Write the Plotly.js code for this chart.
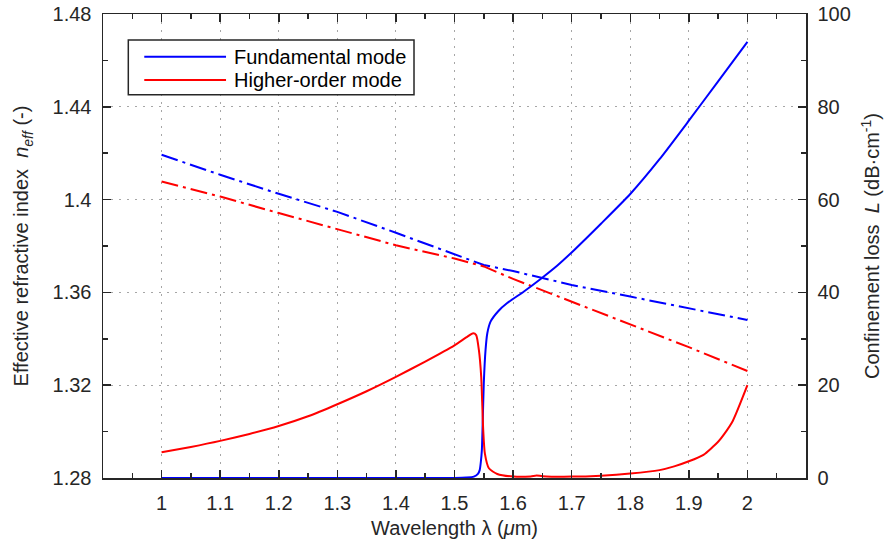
<!DOCTYPE html>
<html>
<head>
<meta charset="utf-8">
<script src="https://cdn.plot.ly/plotly-3.0.1.min.js"></script>
<style>html,body{margin:0;padding:0;background:#fff;}#chart{width:888px;height:543px;}</style>
</head>
<body>
<div id="chart"></div>
<script>
// Effective refractive index (left axis)
const lambdaNeff = [1.0, 1.1, 1.2, 1.3, 1.4, 1.5, 1.55, 1.6, 1.7, 1.8, 1.9, 2.0];
const neffFund   = [1.4193, 1.4107, 1.4025, 1.3947, 1.3857, 1.3763, 1.3718, 1.3692, 1.3632, 1.3582, 1.3532, 1.3481];
const neffHigh   = [1.4078, 1.4013, 1.3942, 1.3873, 1.3803, 1.3746, 1.3712, 1.3658, 1.3560, 1.3465, 1.3364, 1.3261];

// Confinement loss (right axis), fundamental mode
const lambdaLossFund = [1.0, 1.1, 1.2, 1.3, 1.4, 1.45, 1.5, 1.52, 1.533, 1.54, 1.543, 1.545, 1.5467, 1.5484, 1.55, 1.553, 1.556, 1.5615, 1.575, 1.59, 1.6185, 1.647, 1.6756, 1.704, 1.75, 1.8, 1.85, 1.9, 1.95, 2.0];
const lossFund       = [0, 0, 0, 0, 0, 0, 0.02, 0.1, 0.3, 0.9, 1.7, 3.5, 6.0, 13.2, 20.4, 27.6, 31.2, 33.7, 36.0, 37.7, 40.2, 42.9, 45.8, 49.1, 54.8, 61.2, 68.7, 77.0, 85.5, 94.0];

// Confinement loss (right axis), higher-order mode
const lambdaLossHigh = [1.0, 1.05, 1.1, 1.15, 1.2, 1.25, 1.3, 1.35, 1.4, 1.45, 1.5, 1.52, 1.532, 1.537, 1.5416, 1.5456, 1.5473, 1.549, 1.5518, 1.5587, 1.573, 1.601, 1.63, 1.64, 1.65, 1.7, 1.75, 1.8, 1.85, 1.875, 1.9, 1.925, 1.95, 1.96, 1.975, 2.0];
const lossHigh       = [5.54, 6.7, 8.0, 9.5, 11.2, 13.3, 15.9, 18.7, 21.8, 25.1, 28.6, 30.3, 31.2, 30.8, 27.6, 21.8, 16.2, 10.4, 5.3, 2.1, 0.86, 0.3, 0.35, 0.55, 0.4, 0.3, 0.5, 0.95, 1.7, 2.5, 3.6, 5.0, 7.8, 9.4, 12.3, 20.0];

// Axis tick labels
const lambdaTicks = [1, 1.1, 1.2, 1.3, 1.4, 1.5, 1.6, 1.7, 1.8, 1.9, 2];
const lambdaTickText = ['1', '1.1', '1.2', '1.3', '1.4', '1.5', '1.6', '1.7', '1.8', '1.9', '2'];
const neffTicks = [1.28, 1.32, 1.36, 1.4, 1.44, 1.48];
const neffTickText = ['1.28', '1.32', '1.36', '1.4', '1.44', '1.48'];
const lossTicks = [0, 20, 40, 60, 80, 100];

const seriesNames = ['Fundamental mode', 'Higher-order mode'];

const FONT = '"Liberation Sans", Arial, Helvetica, sans-serif';
const AX = '#262626';
const BLUE = '#0000ff', RED = '#ff0000';
const DASHDOT = '17px,5px,3px,5px';

const traces = [
  {x: lambdaLossFund, y: lossFund, yaxis: 'y2', mode: 'lines', name: seriesNames[0],
   line: {color: BLUE, width: 2, shape: 'spline', smoothing: 0.6}},
  {x: lambdaLossHigh, y: lossHigh, yaxis: 'y2', mode: 'lines', name: seriesNames[1],
   line: {color: RED, width: 2, shape: 'spline', smoothing: 0.6}},
  {x: lambdaNeff, y: neffFund, yaxis: 'y', mode: 'lines', name: seriesNames[0] + ' n_eff',
   line: {color: BLUE, width: 2, dash: DASHDOT}},
  {x: lambdaNeff, y: neffHigh, yaxis: 'y', mode: 'lines', name: seriesNames[1] + ' n_eff',
   line: {color: RED, width: 2, dash: DASHDOT}}
];

const gridStyle = {showgrid: true, gridcolor: '#a6a6a6', gridwidth: 1, griddash: '2px,6px'};

// Legend drawn as a framed box with line samples (paper coordinates)
const LEG = {x0: 0.036, x1: 0.4424, y0: 0.826, y1: 0.944, lx0: 0.0587, lx1: 0.175, tx: 0.1835, rows: [0.908, 0.858]};
const legendColors = [BLUE, RED];
const shapes = [
  {type: 'rect', xref: 'paper', yref: 'paper', x0: LEG.x0, x1: LEG.x1, y0: LEG.y0, y1: LEG.y1,
   line: {color: AX, width: 1.5}, fillcolor: '#fff', layer: 'above'}
];
const annotations = [];
seriesNames.forEach((nm, i) => {
  shapes.push({type: 'line', xref: 'paper', yref: 'paper', x0: LEG.lx0, x1: LEG.lx1, y0: LEG.rows[i], y1: LEG.rows[i],
    line: {color: legendColors[i], width: 2}, layer: 'above'});
  annotations.push({xref: 'paper', yref: 'paper', x: LEG.tx, y: LEG.rows[i], xanchor: 'left', yanchor: 'middle',
    text: nm, showarrow: false, font: {family: FONT, size: 20, color: '#000'}});
});

const layout = {
  width: 888, height: 543,
  margin: {l: 103, r: 82, t: 14, b: 65, pad: 0},
  paper_bgcolor: '#fff', plot_bgcolor: '#fff',
  font: {family: FONT, size: 20, color: AX},
  showlegend: false,
  shapes: shapes,
  annotations: annotations,
  xaxis: Object.assign({
    range: [0.9, 2.1], tickmode: 'array', tickvals: lambdaTicks, ticktext: lambdaTickText,
    ticks: 'inside', ticklen: 8, tickwidth: 1.5, tickcolor: AX,
    minor: {tickmode: 'linear', tick0: 0.95, dtick: 0.05, ticks: 'inside', ticklen: 5, tickwidth: 1.5, tickcolor: AX, showgrid: false},
    showline: true, linecolor: AX, linewidth: 1.5, mirror: 'ticks',
    zeroline: false, ticklabelstandoff: 6,
    tickfont: {family: FONT, size: 20, color: AX},
    title: {text: 'Wavelength λ (<i>μ</i>m)', font: {family: FONT, size: 20, color: AX}, standoff: 8}
  }, gridStyle),
  yaxis: Object.assign({
    range: [1.28, 1.48], tickmode: 'array', tickvals: neffTicks, ticktext: neffTickText,
    ticks: 'inside', ticklen: 8, tickwidth: 1.5, tickcolor: AX,
    minor: {tickmode: 'linear', tick0: 1.30, dtick: 0.02, ticks: 'inside', ticklen: 5, tickwidth: 1.5, tickcolor: AX, showgrid: false},
    showline: true, linecolor: AX, linewidth: 1.5, mirror: false,
    zeroline: false, ticklabelstandoff: 6,
    tickfont: {family: FONT, size: 20, color: AX},
    title: {text: 'Effective refractive index  <i>n</i><sub><i>eff</i></sub> (-)', font: {family: FONT, size: 20, color: AX}, standoff: 18}
  }, gridStyle),
  yaxis2: {
    overlaying: 'y', side: 'right',
    range: [0, 100], tickmode: 'array', tickvals: lossTicks,
    ticks: 'inside', ticklen: 8, tickwidth: 1.5, tickcolor: AX,
    minor: {tickmode: 'linear', tick0: 10, dtick: 10, ticks: 'inside', ticklen: 5, tickwidth: 1.5, tickcolor: AX, showgrid: false},
    showline: true, linecolor: AX, linewidth: 1.5,
    showgrid: false, zeroline: false, ticklabelstandoff: 6,
    tickfont: {family: FONT, size: 20, color: AX},
    title: {text: 'Confinement loss  <i>L</i> (dB·cm<sup>-1</sup>)', font: {family: FONT, size: 20, color: AX}, standoff: 15}
  }
};

Plotly.newPlot('chart', traces, layout, {displayModeBar: false, staticPlot: true});
</script>
</body>
</html>
